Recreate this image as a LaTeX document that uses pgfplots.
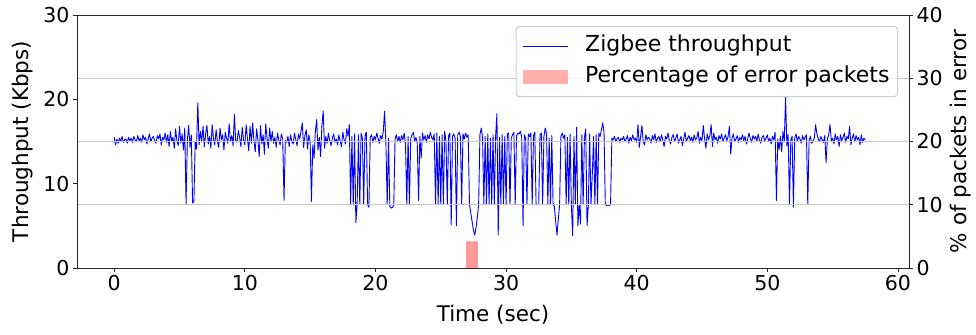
\documentclass[border=0pt]{standalone}
\usepackage{fontspec}
\setmainfont{DejaVu Sans}
\usepackage{pgfplots}
\pgfplotsset{compat=1.18}
\definecolor{barred}{RGB}{255,153,153}
\definecolor{gridgray}{RGB}{200,200,200}
\definecolor{spine}{RGB}{40,40,40}
\definecolor{legframe}{RGB}{205,205,205}
\pgfplotsset{
  linelegend/.style={legend image code/.code={\draw[blue, line width=1bp, sharp corners] (0bp,0bp) -- (45bp,0bp);}},
  barlegend/.style={legend image code/.code={\fill[barred, sharp corners] (0bp,-7bp) rectangle (45bp,7bp);}},
}
\newcommand{\labfont}{\fontsize{21.5bp}{25bp}\selectfont}
\newcommand{\legfont}{\fontsize{22bp}{26bp}\selectfont}
\begin{document}
\begin{tikzpicture}
\pgfplotsset{
  base/.style={
    scale only axis, width=832bp, height=253bp, at={(0,0)}, anchor=south west,
    xmin=-2.85, xmax=60.85,
    tick align=outside, major tick length=4bp,
    every tick/.style={spine, line width=0.8bp},
    axis line style={spine, line width=0.8bp},
    ticklabel style={font=\fontsize{20.5bp}{24bp}\selectfont},
    /pgf/number format/assume math mode=true,
  }
}
\begin{axis}[base, ymin=0, ymax=30, ytick={0,10,20,30}, xtick={0,10,...,60},
  xtick pos=left, ytick pos=left,
  xlabel={Time (sec)}, ylabel={Throughput (Kbps)},
  every axis x label/.style={at={(axis description cs:0.5,-0.186)}, anchor=center, font=\labfont},
  every axis y label/.style={at={(axis description cs:-0.066,0.5)}, rotate=90, anchor=center, font=\labfont}]
\addplot[blue, line width=0.9bp, line join=round] coordinates {
(0.0,15.5)(0.1,14.6)(0.2,15.3)(0.3,14.8)(0.4,15.4)(0.5,15.0)(0.6,15.6)(0.7,14.9)(0.8,15.2)(0.9,15.3)
(1.0,14.8)(1.1,15.5)(1.2,15.1)(1.3,15.4)(1.4,14.9)(1.5,15.6)(1.6,15.2)(1.7,15.0)(1.8,15.7)(1.9,15.1)
(2.0,15.4)(2.1,14.9)(2.2,15.8)(2.3,15.2)(2.4,15.5)(2.5,14.7)(2.6,15.3)(2.7,15.9)(2.8,15.0)(2.9,15.4)
(3.0,15.6)(3.1,15.1)(3.2,14.8)(3.3,15.7)(3.4,15.3)(3.5,15.9)(3.6,14.6)(3.7,15.5)(3.8,15.2)(3.9,16.0)
(4.0,14.9)(4.1,15.8)(4.2,14.4)(4.3,16.2)(4.4,15.0)(4.5,15.5)(4.6,14.2)(4.7,16.5)(4.8,15.1)(4.9,14.5)
(5.0,16.8)(5.1,14.8)(5.2,15.9)(5.3,14.0)(5.4,16.6)(5.5,7.6)(5.6,15.2)(5.7,16.9)(5.8,14.3)(5.9,15.8)
(6.0,7.7)(6.1,7.9)(6.2,15.0)(6.3,14.1)(6.4,19.6)(6.5,14.6)(6.6,16.2)(6.7,15.0)(6.8,16.8)(6.9,14.4)
(7.0,15.9)(7.1,16.9)(7.2,14.7)(7.3,15.6)(7.4,14.2)(7.5,17.0)(7.6,15.3)(7.7,14.6)(7.8,16.4)(7.9,15.0)
(8.0,14.3)(8.1,16.6)(8.2,15.2)(8.3,15.8)(8.4,14.0)(8.5,16.1)(8.6,15.4)(8.7,14.8)(8.8,17.1)(8.9,15.0)
(9.0,15.7)(9.1,14.5)(9.2,18.2)(9.3,15.1)(9.4,14.9)(9.5,16.3)(9.6,15.5)(9.7,14.4)(9.8,16.7)(9.9,15.2)
(10.0,14.6)(10.1,17.0)(10.2,15.3)(10.3,13.9)(10.4,16.8)(10.5,14.8)(10.6,17.2)(10.7,15.0)(10.8,13.8)(10.9,16.5)
(11.0,15.2)(11.1,13.2)(11.2,16.9)(11.3,14.7)(11.4,15.8)(11.5,13.5)(11.6,17.1)(11.7,15.4)(11.8,14.2)(11.9,16.6)
(12.0,15.0)(12.1,16.2)(12.2,14.8)(12.3,15.5)(12.4,14.3)(12.5,16.0)(12.6,15.2)(12.7,14.6)(12.8,15.9)(12.9,15.3)
(13.0,8.0)(13.1,15.1)(13.2,14.9)(13.3,15.6)(13.4,14.4)(13.5,15.8)(13.6,15.0)(13.7,14.7)(13.8,16.0)(13.9,15.2)
(14.0,14.5)(14.1,15.9)(14.2,15.3)(14.3,16.2)(14.4,17.2)(14.5,14.3)(14.6,15.7)(14.7,16.4)(14.8,14.1)(14.9,15.8)
(15.0,15.0)(15.1,7.9)(15.2,14.6)(15.3,13.0)(15.4,16.2)(15.5,17.6)(15.6,14.0)(15.7,15.5)(15.8,13.2)(15.9,16.9)
(16.0,18.6)(16.1,14.2)(16.2,15.6)(16.3,14.8)(16.4,16.0)(16.5,15.1)(16.6,14.5)(16.7,15.4)(16.8,15.9)(16.9,14.9)
(17.0,15.3)(17.1,14.6)(17.2,15.8)(17.3,15.0)(17.4,14.4)(17.5,16.1)(17.6,15.2)(17.7,14.7)(17.8,16.5)(17.9,15.6)
(18.0,17.0)(18.1,7.6)(18.2,15.6)(18.3,7.5)(18.4,15.9)(18.5,5.4)(18.6,7.6)(18.7,15.8)(18.8,7.5)(18.9,16.0)
(19.0,15.4)(19.1,7.5)(19.2,15.7)(19.3,16.1)(19.4,7.5)(19.5,7.2)(19.6,15.5)(19.7,15.8)(19.8,14.9)(19.9,15.6)
(20.0,15.2)(20.1,16.0)(20.2,15.4)(20.3,14.8)(20.4,15.7)(20.5,15.3)(20.6,16.2)(20.7,18.6)(20.8,14.8)(20.9,7.5)
(21.0,15.4)(21.1,7.3)(21.2,7.1)(21.3,7.2)(21.4,7.4)(21.5,15.3)(21.6,15.8)(21.7,15.0)(21.8,15.6)(21.9,14.9)
(22.0,15.7)(22.1,15.2)(22.2,16.0)(22.3,14.7)(22.4,7.5)(22.5,15.6)(22.6,7.5)(22.7,15.3)(22.8,15.8)(22.9,16.1)
(23.0,15.0)(23.1,15.5)(23.2,14.8)(23.3,8.0)(23.4,15.6)(23.5,13.0)(23.6,16.0)(23.7,15.2)(23.8,15.7)(23.9,14.9)
(24.0,15.8)(24.1,15.3)(24.2,16.1)(24.3,15.5)(24.4,15.2)(24.5,15.9)(24.6,7.5)(24.7,16.0)(24.8,7.5)(24.9,15.6)
(25.0,7.5)(25.1,15.8)(25.2,7.6)(25.3,16.2)(25.4,15.0)(25.5,7.5)(25.6,15.7)(25.7,16.0)(25.8,5.1)(25.9,15.6)
(26.0,15.9)(26.1,15.4)(26.2,5.0)(26.3,15.8)(26.4,16.1)(26.5,15.6)(26.6,7.5)(26.7,15.9)(26.8,15.3)(26.9,16.0)
(27.0,15.5)(27.1,15.8)(27.2,7.5)(27.3,6.5)(27.4,5.5)(27.5,4.5)(27.6,3.9)(27.7,4.8)(27.8,6.0)(27.9,7.5)
(28.0,15.8)(28.1,16.6)(28.2,15.5)(28.3,7.5)(28.4,15.6)(28.5,7.5)(28.6,15.9)(28.7,7.5)(28.8,15.4)(28.9,7.5)
(29.0,15.8)(29.1,7.5)(29.2,15.6)(29.3,18.3)(29.4,3.9)(29.5,15.5)(29.6,7.5)(29.7,15.8)(29.8,7.5)(29.9,15.6)
(30.0,7.5)(30.1,15.9)(30.2,16.0)(30.3,7.5)(30.4,15.4)(30.5,15.8)(30.6,16.1)(30.7,7.5)(30.8,15.6)(30.9,16.0)
(31.0,15.9)(31.1,16.2)(31.2,15.5)(31.3,5.0)(31.4,15.8)(31.5,15.4)(31.6,7.5)(31.7,15.9)(31.8,15.6)(31.9,16.0)
(32.0,7.5)(32.1,15.7)(32.2,16.1)(32.3,7.5)(32.4,7.5)(32.5,7.6)(32.6,15.8)(32.7,16.0)(32.8,7.5)(32.9,15.6)
(33.0,16.6)(33.1,15.9)(33.2,7.5)(33.3,15.4)(33.4,7.5)(33.5,15.7)(33.6,7.5)(33.7,7.3)(33.8,5.5)(33.9,3.9)
(34.0,5.8)(34.1,7.5)(34.2,15.6)(34.3,16.0)(34.4,15.4)(34.5,15.8)(34.6,7.5)(34.7,15.5)(34.8,7.5)(34.9,15.9)
(35.0,7.5)(35.1,3.8)(35.2,15.6)(35.3,7.5)(35.4,16.7)(35.5,5.0)(35.6,7.5)(35.7,5.2)(35.8,15.8)(35.9,7.5)
(36.0,15.5)(36.1,16.5)(36.2,5.0)(36.3,7.5)(36.4,15.9)(36.5,7.5)(36.6,11.0)(36.7,15.6)(36.8,7.5)(36.9,15.8)
(37.0,7.5)(37.1,16.0)(37.2,15.6)(37.3,16.4)(37.4,17.2)(37.5,16.1)(37.6,7.5)(37.7,7.4)(37.8,7.5)(37.9,7.4)
(38.0,7.5)(38.1,15.4)(38.2,15.2)(38.3,15.6)(38.4,15.0)(38.5,15.3)(38.6,15.5)(38.7,14.9)(38.8,15.4)(38.9,15.2)
(39.0,15.6)(39.1,15.0)(39.2,15.3)(39.3,15.7)(39.4,14.8)(39.5,15.5)(39.6,15.1)(39.7,15.8)(39.8,15.2)(39.9,15.4)
(40.0,14.9)(40.1,17.0)(40.2,14.3)(40.3,15.6)(40.4,16.9)(40.5,15.0)(40.6,14.6)(40.7,15.8)(40.8,15.2)(40.9,15.5)
(41.0,15.3)(41.1,14.8)(41.2,15.7)(41.3,15.2)(41.4,15.9)(41.5,14.9)(41.6,15.4)(41.7,15.6)(41.8,15.0)(41.9,15.8)
(42.0,15.2)(42.1,14.4)(42.2,15.6)(42.3,15.3)(42.4,16.0)(42.5,15.1)(42.6,14.7)(42.7,15.5)(42.8,15.8)(42.9,15.0)
(43.0,15.4)(43.1,15.9)(43.2,14.8)(43.3,15.2)(43.4,15.6)(43.5,14.5)(43.6,15.3)(43.7,16.1)(43.8,15.0)(43.9,15.4)
(44.0,15.7)(44.1,15.1)(44.2,15.5)(44.3,14.9)(44.4,15.8)(44.5,15.2)(44.6,15.4)(44.7,16.2)(44.8,14.8)(44.9,15.5)
(45.0,15.1)(45.1,16.9)(45.2,15.3)(45.3,14.2)(45.4,15.9)(45.5,15.2)(45.6,15.7)(45.7,17.0)(45.8,14.4)(45.9,16.0)
(46.0,15.2)(46.1,15.5)(46.2,14.8)(46.3,15.7)(46.4,15.3)(46.5,15.9)(46.6,15.0)(46.7,15.4)(46.8,15.8)(46.9,15.1)
(47.0,15.6)(47.1,16.8)(47.2,13.5)(47.3,15.4)(47.4,15.9)(47.5,15.0)(47.6,15.3)(47.7,15.7)(47.8,14.9)(47.9,15.5)
(48.0,15.2)(48.1,15.8)(48.2,15.1)(48.3,15.6)(48.4,14.7)(48.5,15.3)(48.6,16.0)(48.7,15.4)(48.8,14.9)(48.9,15.7)
(49.0,15.3)(49.1,15.6)(49.2,15.0)(49.3,15.9)(49.4,15.2)(49.5,14.8)(49.6,15.5)(49.7,15.7)(49.8,15.1)(49.9,15.4)
(50.0,15.8)(50.1,15.0)(50.2,15.4)(50.3,14.7)(50.4,15.6)(50.5,15.2)(50.6,16.1)(50.7,8.0)(50.8,15.3)(50.9,14.0)
(51.0,15.6)(51.1,13.8)(51.2,16.2)(51.3,15.0)(51.4,20.3)(51.5,14.5)(51.6,15.8)(51.7,7.5)(51.8,15.2)(51.9,15.6)
(52.0,7.2)(52.1,15.4)(52.2,15.9)(52.3,15.0)(52.4,15.6)(52.5,15.3)(52.6,14.8)(52.7,15.7)(52.8,15.2)(52.9,15.5)
(53.0,15.8)(53.1,7.5)(53.2,15.1)(53.3,15.6)(53.4,14.8)(53.5,15.0)(53.6,15.4)(53.7,17.0)(53.8,15.9)(53.9,15.3)
(54.0,15.0)(54.1,15.6)(54.2,15.2)(54.3,14.9)(54.4,15.7)(54.5,12.5)(54.6,15.3)(54.7,15.8)(54.8,17.0)(54.9,15.1)
(55.0,15.4)(55.1,14.7)(55.2,15.9)(55.3,15.2)(55.4,15.6)(55.5,14.4)(55.6,15.8)(55.7,15.1)(55.8,15.5)(55.9,16.0)
(56.0,14.9)(56.1,15.6)(56.2,15.3)(56.3,16.8)(56.4,14.6)(56.5,15.4)(56.6,15.9)(56.7,15.0)(56.8,15.7)(56.9,15.2)
(57.0,15.5)(57.1,14.6)(57.2,15.8)(57.3,14.9)(57.4,15.4)(57.5,15.2)
};
\end{axis}
\begin{axis}[base, ymin=0, ymax=40, ytick={0,10,20,30,40}, xtick=\empty, ytick pos=right,
  axis on top, ymajorgrids, grid style={gridgray, line width=0.9bp},
  ylabel={\% of packets in error},
  every axis y label/.style={at={(axis description cs:1.0625,0.5)}, rotate=90, anchor=center, font=\labfont},
  legend cell align=left,
  legend style={at={(axis description cs:0.9868,0.9565)}, anchor=north east,
    draw=legframe, line width=1bp, rounded corners=3bp, fill=white, fill opacity=0.8, draw opacity=1, text opacity=1,
    inner xsep=6bp, inner ysep=7bp, font=\legfont,
    row sep=6bp, nodes={inner sep=2bp, text height=16bp, text depth=5bp},
    /tikz/every odd column/.append style={column sep=15bp}}]
\addlegendimage{linelegend}
\addlegendentry{Zigbee throughput}
\addplot[fill=barred, draw=none, barlegend]
  coordinates {(26.95,0)(26.95,4.2)(27.85,4.2)(27.85,0)} \closedcycle;
\addlegendentry{Percentage of error packets}
\end{axis}
\pgfresetboundingbox
\path (-77bp,-67bp) rectangle (899bp,268bp);
\end{tikzpicture}
\end{document}
